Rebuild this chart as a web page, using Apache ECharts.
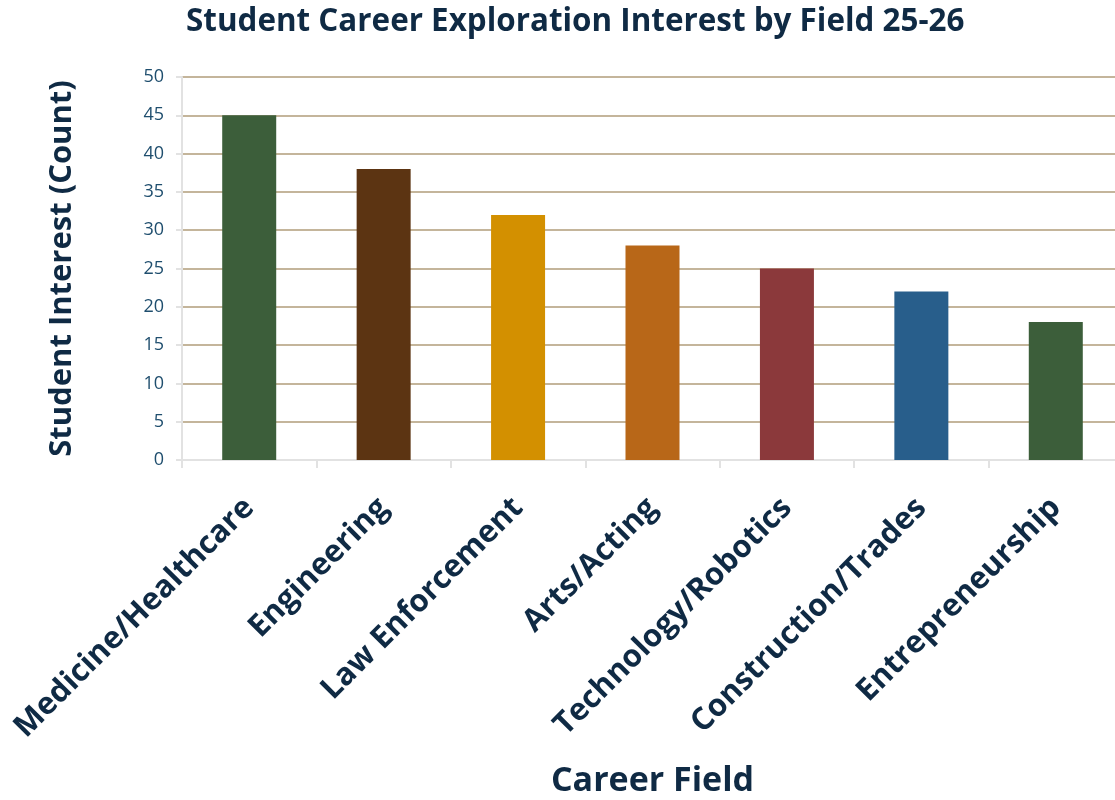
<!DOCTYPE html>
<html>
<head>
<meta charset="utf-8">
<script src="https://cdn.jsdelivr.net/npm/echarts@6/dist/echarts.min.js"></script>
<style>html,body{margin:0;padding:0;background:#fff;}#chart{width:1115px;height:800px;}</style>
</head>
<body>
<div id="chart"></div>
<script>
const categories = ['Medicine/Healthcare','Engineering','Law Enforcement','Arts/Acting','Technology/Robotics','Construction/Trades','Entrepreneurship'];
const values = [45, 38, 32, 28, 25, 22, 18];
const barColors = ['#3C5E3A','#5C3412','#D39000','#B86718','#8B393B','#285E8B','#3C5E3A'];
const yTicks = [0,5,10,15,20,25,30,35,40,45,50];

const chart = echarts.init(document.getElementById('chart'));
const font = '"Open Sans", Lato, sans-serif';
chart.setOption({
  animation: false,
  title: {
    text: 'Student Career Exploration Interest by Field 25-26',
    left: 181, top: 2,
    textStyle: { fontFamily: font, fontWeight: 'bold', fontSize: 31.4, color: '#0F2A44' }
  },
  grid: { left: 182, top: 77, width: 941, height: 383, containLabel: false, outerBoundsMode: 'none' },
  xAxis: {
    type: 'category',
    data: categories,
    name: 'Career Field',
    nameLocation: 'middle',
    nameGap: 304,
    nameTextStyle: { fontFamily: font, fontWeight: 'bold', fontSize: 34, color: '#0F2A44' },
    axisLine: { lineStyle: { color: '#E2E2E2', width: 2 } },
    axisTick: { show: true, alignWithLabel: false, length: 8, lineStyle: { color: '#E2E2E2', width: 2 } },
    axisLabel: { rotate: 45, margin: 43, fontFamily: font, fontWeight: 'bold', fontSize: 31, color: '#0F2A44', interval: 0 }
  },
  yAxis: {
    type: 'value',
    min: 0, max: 50, interval: 5,
    name: 'Student Interest (Count)',
    nameLocation: 'middle',
    nameGap: 104,
    nameTextStyle: { fontFamily: font, fontWeight: 'bold', fontSize: 31, color: '#0F2A44' },
    axisLine: { show: true, lineStyle: { color: '#E2E2E2', width: 2 } },
    axisTick: { show: true, length: 6, lineStyle: { color: '#E2E2E2', width: 2 } },
    axisLabel: { margin: 18, fontFamily: font, fontSize: 18, color: '#1F4E6E',
      formatter: v => yTicks.includes(v) ? String(v) : '' },
    splitLine: { lineStyle: { color: '#C4B59B', width: 2 } }
  },
  series: [{
    type: 'bar',
    data: values.map((v, i) => ({ value: v, itemStyle: { color: barColors[i] } })),
    barWidth: 54
  }]
});
</script>
</body>
</html>
